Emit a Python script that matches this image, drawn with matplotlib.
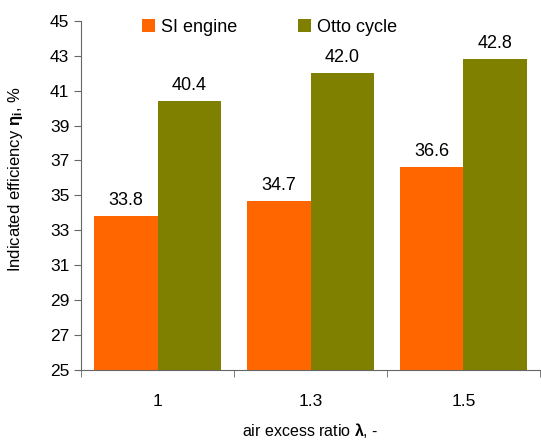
import numpy as np
import matplotlib.pyplot as plt

plt.rcParams['font.family'] = ['Liberation Sans', 'DejaVu Sans']
plt.rcParams['mathtext.fontset'] = 'custom'
plt.rcParams['mathtext.rm'] = 'Liberation Sans'
plt.rcParams['mathtext.bf'] = 'Liberation Sans:bold'
plt.rcParams['mathtext.it'] = 'Liberation Sans:italic'

lambdas = ['1', '1.3', '1.5']
si_engine = [33.8, 34.7, 36.6]
otto_cycle = [40.4, 42.0, 42.8]

fig = plt.figure(figsize=(5.41, 4.43), dpi=100)
ax = fig.add_axes([0.150, 0.165, 0.848, 0.788])

x = np.arange(len(lambdas))
w = 0.417
b1 = ax.bar(x - w / 2, np.array(si_engine) - 25, w, bottom=25, color='#FF6600', label='SI engine')
b2 = ax.bar(x + w / 2, np.array(otto_cycle) - 25, w, bottom=25, color='#808000', label='Otto cycle')

for bars, vals in ((b1, si_engine), (b2, otto_cycle)):
    for r, v in zip(bars, vals):
        ax.text(r.get_x() + r.get_width() / 2, v + 0.4, f'{v:.1f}',
                ha='center', va='bottom', fontsize=13)

ax.set_xlim(-0.5, 2.5)
ax.set_ylim(25, 45)
ax.set_yticks(np.arange(25, 46, 2))
ax.set_xticks(x)
ax.set_xticklabels(lambdas)
ax.set_xticks(np.arange(-0.5, 2.6, 1), minor=True)
ax.tick_params(axis='x', which='major', length=0, pad=17, labelsize=12.5)
ax.tick_params(axis='x', which='minor', length=5, color='#666666')
ax.tick_params(axis='y', length=5, color='#666666', labelsize=12.5)

for s in ('top', 'right'):
    ax.spines[s].set_visible(False)
for s in ('left', 'bottom'):
    ax.spines[s].set_color('#666666')

ax.set_ylabel(r'Indicated efficiency $\mathbf{η_i}$, %', fontsize=12)
ax.yaxis.set_label_coords(-0.122, 0.547)
ax.set_xlabel(r'air excess ratio $\mathbf{λ}$, -', fontsize=11.5, labelpad=9)

ax.legend(loc='upper left', bbox_to_anchor=(0.133, 1.005), ncol=2, frameon=False,
          fontsize=13, borderpad=0, borderaxespad=0, handlelength=0.72,
          handleheight=0.72, handletextpad=0.3, columnspacing=3.4)

fig.savefig('out.png', dpi=100)
